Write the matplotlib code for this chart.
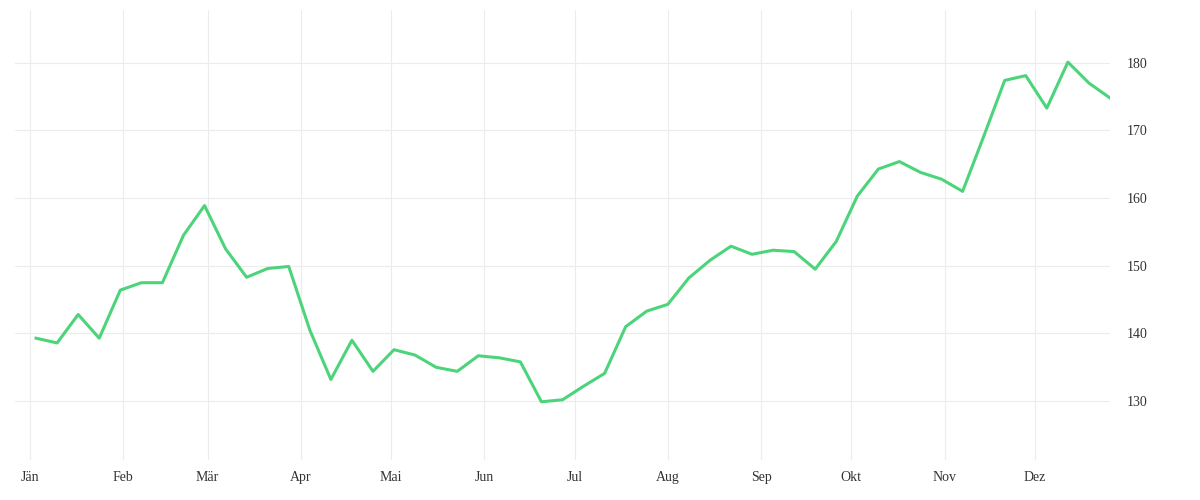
import matplotlib.pyplot as plt
import matplotlib.dates as mdates
import numpy as np
import pandas as pd

start = '2021-01-03'
values = [139.3, 138.6, 142.8, 139.3, 146.4, 147.5, 147.5, 154.5, 158.9, 152.5,
          148.3, 149.6, 149.9, 140.5, 133.2, 139.0, 134.4, 137.6, 136.8, 135.0,
          134.4, 136.7, 136.4, 135.8, 129.9, 130.2, 132.2, 134.1, 141.0, 143.3,
          144.3, 148.2, 150.8, 152.9, 151.7, 152.3, 152.1, 149.5, 153.6, 160.3,
          164.3, 165.4, 163.8, 162.8, 161.0, 169.1, 177.4, 178.1, 173.3, 180.1,
          177.0, 174.8]
months = ['Jän', 'Feb', 'Mär', 'Apr', 'Mai', 'Jun', 'Jul', 'Aug', 'Sep', 'Okt', 'Nov', 'Dez']
yticks = [130, 140, 150, 160, 170, 180]

dates = pd.date_range(start, periods=len(values), freq='7D')

fig = plt.figure(figsize=(12, 5), dpi=100)
ax = fig.add_axes([15 / 1200, 40 / 500, 1095 / 1200, 450 / 500])
ax.plot(dates, values, color='#4cd47b', linewidth=2.2)

ax.set_xlim(pd.Timestamp('2020-12-27'), pd.Timestamp('2021-12-26'))
ax.set_ylim(121.3, 187.8)
ticks = pd.date_range('2021-01-01', periods=12, freq='MS')
ax.set_xticks(ticks)
ax.set_xticklabels(months)
ax.set_yticks(yticks)
ax.yaxis.tick_right()
for s in ax.spines.values():
    s.set_visible(False)
ax.grid(True, color='#ececec', linewidth=0.8)
ax.tick_params(length=0, labelsize=10, labelcolor='#333333', pad=8)
for lbl in ax.get_xticklabels() + ax.get_yticklabels():
    lbl.set_family('Liberation Serif')
ax.tick_params(axis='y', pad=12)

fig.savefig('out.png', dpi=100)
